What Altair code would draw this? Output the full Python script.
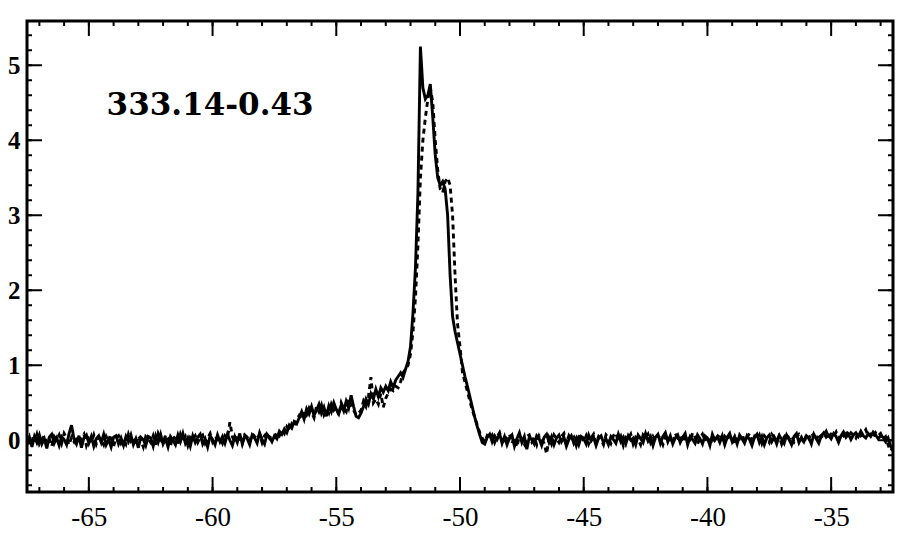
import altair as alt
import pandas as pd

# Channel velocities (km/s): -67.5 .. -32.5 in 0.1 steps
v_start, v_step, n_chan = -67.5, 0.1, 351
velocity = [round(v_start + v_step * i, 2) for i in range(n_chan)]

# ---- solid spectrum ----
solid_base_left = [
    -0.06, 0.04, -0.09, 0.05, -0.03, 0.07, -0.05, 0.02, -0.11, 0.04,
    0.08, -0.04, 0.03, -0.07, 0.05, 0.01, -0.06, 0.09, 0.20, 0.02,
    -0.05, 0.06, -0.10, 0.03, 0.07, -0.04, 0.05, -0.08, 0.02, 0.06,
    -0.03, 0.08, -0.06, 0.01, -0.09, 0.04, 0.06, -0.05, 0.03, -0.07,
    0.05, -0.02, 0.07, -0.06, 0.02, -0.10, 0.04, 0.01, -0.07, 0.05,
    0.03, -0.08, 0.06, -0.03, 0.08, -0.05, 0.02, -0.09, 0.05, 0.00,
    -0.06, 0.07, -0.02, 0.09, -0.04, 0.03, -0.08, 0.06, -0.03, 0.04,
    0.08, -0.05, 0.02, -0.09, 0.06, 0.01, -0.06, 0.07, -0.02, 0.05,
    -0.04, 0.08, 0.00, -0.07, 0.05, -0.03, 0.09, -0.05, 0.06, 0.02,
    -0.06, 0.07, 0.03, -0.04, 0.10, 0.01, -0.05, 0.08, 0.04, -0.02,
]
solid_wing = [
    0.06, 0.02, 0.12, 0.08, 0.15, 0.10, 0.20, 0.16, 0.25, 0.22,
    0.30, 0.38, 0.28, 0.42, 0.35, 0.45, 0.33, 0.40, 0.48, 0.36,
    0.44, 0.32, 0.46, 0.38, 0.50, 0.41, 0.35, 0.47, 0.39, 0.52,
    0.43, 0.60, 0.45, 0.32, 0.30,
    0.36, 0.45, 0.55, 0.48, 0.62, 0.55, 0.68, 0.58, 0.70, 0.64,
    0.72, 0.66, 0.78, 0.70, 0.80,
]
solid_peak = [
    0.85, 0.90, 0.84, 0.95, 1.05, 1.25, 1.70, 2.30, 3.30, 5.25,
    4.70, 4.55, 4.60, 4.75, 4.30,
    3.80, 3.50, 3.40, 3.45, 3.35, 3.00, 2.20, 1.65, 1.45, 1.30,
    1.15, 1.00, 0.85, 0.72, 0.58, 0.44, 0.30, 0.18, 0.07, -0.03,
]
solid_base_right = [
    -0.05, 0.04, 0.08, -0.02, 0.06, 0.01, 0.09, -0.04, 0.05, -0.06,
    0.03, 0.07, -0.08, 0.02, 0.10, -0.03, 0.05, -0.12, 0.04, 0.01,
    -0.05, 0.06, 0.02, -0.07, 0.04, 0.08, -0.03, 0.05, -0.06, 0.03,
    0.07, -0.02, 0.04, -0.08, 0.01, 0.06, -0.04, 0.03, -0.06, 0.05,
    0.02, -0.05, 0.07, -0.01, 0.04, -0.07, 0.03, 0.06, -0.03, 0.02,
    -0.06, 0.05, 0.01, -0.04, 0.08, -0.02, 0.04, -0.05, 0.06, 0.00,
    0.03, -0.06, 0.07, 0.02, -0.03, 0.09, -0.01, 0.05, -0.07, 0.04,
    0.08, -0.04, 0.05, 0.10, -0.02, 0.06, -0.05, 0.03, 0.07, -0.03,
    0.04, 0.09, -0.06, 0.05, 0.01, -0.04, 0.07, 0.02, -0.05, 0.06,
    0.03, -0.07, 0.08, 0.00, 0.05, -0.03, 0.06, -0.06, 0.04, 0.09,
    -0.02, 0.05, -0.05, 0.07, 0.02, -0.04, 0.06, 0.01, -0.07, 0.04,
    0.08, -0.03, 0.05, -0.06, 0.03, 0.07, -0.02, 0.04, -0.05, 0.06,
    0.02, -0.04, 0.07, 0.01, -0.06, 0.05, 0.09, -0.03, 0.04, -0.02,
    0.06, 0.03, -0.05, 0.08, 0.02, -0.04, 0.06, 0.10, 0.04, 0.07,
    0.02, 0.09, 0.05, -0.03, 0.06, 0.11, 0.04, 0.08, 0.01, 0.07,
    0.10, 0.05, 0.12, 0.06, 0.03, 0.09, 0.05, 0.11, 0.07, 0.02,
    0.06, 0.04, -0.02, 0.03, -0.08, -0.12,
]

# ---- dashed spectrum ----
dashed_base_left = [
    0.03, -0.07, 0.05, -0.02, 0.08, -0.05, 0.01, 0.06, -0.04, 0.02,
    -0.08, 0.05, 0.00, 0.07, -0.04, 0.09, 0.03, -0.06, 0.04, -0.02,
    0.06, -0.05, 0.03, 0.08, -0.07, 0.02, -0.03, 0.07, -0.05, 0.04,
    0.01, -0.06, 0.05, -0.02, 0.07, -0.08, 0.03, 0.06, -0.04, 0.02,
    -0.05, 0.08, -0.01, 0.04, -0.07, 0.06, 0.00, -0.09, 0.05, 0.02,
    -0.03, 0.06, -0.06, 0.09, 0.01, -0.04, 0.07, 0.03, -0.07, 0.05,
    0.02, -0.05, 0.08, -0.01, 0.05, -0.07, 0.04, 0.01, 0.06, -0.03,
    0.04, 0.07, -0.04, 0.03, 0.09, -0.02, 0.05, 0.01, 0.03, -0.04,
    0.06, 0.02, 0.24, 0.05, -0.03, 0.08, 0.02, -0.05, 0.07, 0.04,
    -0.02, 0.09, 0.05, 0.01, 0.08, -0.03, 0.06, 0.10, 0.03, 0.07,
]
dashed_wing = [
    0.04, 0.10, 0.06, 0.14, 0.09, 0.18, 0.13, 0.22, 0.18, 0.27,
    0.33, 0.28, 0.40, 0.34, 0.43, 0.37, 0.30, 0.45, 0.38, 0.47,
    0.34, 0.42, 0.36, 0.48, 0.40, 0.44, 0.33, 0.50, 0.42, 0.38,
    0.55, 0.46, 0.40, 0.34, 0.36,
    0.40, 0.52, 0.45, 0.58, 0.84, 0.50, 0.55, 0.48, 0.62, 0.44,
    0.56, 0.63, 0.68, 0.66, 0.72,
]
dashed_peak = [
    0.70, 0.78, 0.90, 0.95, 1.00, 1.15, 1.45, 1.90, 2.60, 3.50,
    4.00, 4.30, 4.55, 4.70, 4.50,
    4.00, 3.60, 3.35, 3.30, 3.45, 3.50, 3.40, 3.00, 2.20, 1.55,
    1.25, 0.90, 0.78, 0.65, 0.52, 0.40, 0.30, 0.20, 0.10, 0.03,
]
dashed_base_right = [
    -0.02, 0.06, 0.02, 0.07, -0.03, 0.05, 0.10, 0.00, -0.05, 0.04,
    0.08, -0.04, 0.03, -0.09, 0.06, 0.02, -0.05, 0.05, 0.07, -0.02,
    0.04, -0.06, 0.06, 0.01, -0.04, -0.18, 0.03, -0.05, 0.07, 0.02,
    -0.03, 0.05, 0.09, -0.04, 0.06, 0.00, 0.04, -0.07, 0.05, 0.08,
    -0.02, 0.06, -0.05, 0.03, 0.08, -0.03, 0.05, 0.01, -0.06, 0.07,
    0.03, -0.04, 0.06, 0.10, -0.02, 0.05, -0.07, 0.04, 0.02, 0.08,
    -0.05, 0.04, 0.01, -0.06, 0.07, 0.03, 0.08, -0.03, 0.05, -0.01,
    0.06, 0.02, -0.06, 0.05, 0.08, 0.01, -0.04, 0.09, 0.03, 0.06,
    -0.03, 0.05, 0.07, -0.02, 0.10, 0.04, -0.05, 0.03, 0.08, -0.01,
    0.06, 0.01, -0.05, 0.07, 0.03, 0.09, -0.02, 0.05, 0.00, 0.07,
    0.03, -0.06, 0.06, 0.02, 0.08, -0.01, 0.04, 0.09, -0.03, 0.05,
    0.01, 0.07, -0.04, 0.06, 0.02, -0.03, 0.08, 0.04, 0.00, 0.06,
    -0.05, 0.04, 0.09, 0.02, 0.06, -0.02, 0.05, 0.08, 0.03, -0.04,
    0.07, 0.02, 0.10, 0.05, -0.01, 0.09, 0.04, 0.07, 0.12, 0.03,
    0.08, 0.05, 0.11, 0.02, 0.09, 0.06, 0.13, 0.04, 0.10, 0.07,
    0.03, 0.11, 0.06, 0.09, 0.14, 0.05, 0.08, 0.03, 0.10, 0.06,
    0.09, 0.02, 0.05, -0.06, -0.14, -0.10,
]

solid_vals = solid_base_left + solid_wing + solid_peak + solid_base_right
dashed_vals = dashed_base_left + dashed_wing + dashed_peak + dashed_base_right

# tick values / labels
x_major = [-65, -60, -55, -50, -45, -40, -35]
x_minor = list(range(-67, -32))
y_major = [0, 1, 2, 3, 4, 5]
y_minor = [round(-0.6 + 0.2 * k, 1) for k in range(31)]

label_text = ["333.14-0.43"]
label_x = [-60.1]
label_y = [4.46]

W, H = 866, 471
MAJ, MIN = 15, 5

df_solid = pd.DataFrame({"v": velocity[:len(solid_vals)], "t": solid_vals})
df_dashed = pd.DataFrame({"v": velocity[:len(dashed_vals)], "t": dashed_vals})
df_label = pd.DataFrame({"v": label_x, "t": label_y, "txt": label_text})

xs = alt.Scale(domain=[-67.5, -32.5], nice=False, zero=False)
ys = alt.Scale(domain=[-0.69, 5.59], nice=False, zero=False)

x_axis = alt.Axis(values=x_major, ticks=False, domain=False, grid=False, title=None,
                  labelFont="Liberation Serif", labelFontSize=27, labelColor="black",
                  labelPadding=12, labelFlush=False,
                  labelExpr="toString(datum.value)")
y_axis = alt.Axis(values=y_major, ticks=False, domain=False, grid=False, title=None,
                  labelFont="Liberation Serif", labelFontSize=25, labelFontWeight="bold",
                  labelColor="black", labelPadding=7, labelFlush=False,
                  labelExpr="toString(datum.value)")

X = alt.X("v:Q", scale=xs, axis=x_axis)
Y = alt.Y("t:Q", scale=ys, axis=y_axis)

solid = alt.Chart(df_solid).mark_line(color="black", strokeWidth=2.9, clip=True).encode(x=X, y=Y)
dashed = alt.Chart(df_dashed).mark_line(
    color="black", strokeWidth=2.9, strokeDash=[5, 4], clip=True).encode(x=X, y=Y)

def xticks(vals, length):
    d = pd.DataFrame({"v": vals})
    bottom = alt.Chart(d).mark_rule(color="black", strokeWidth=2).encode(
        x=X, y=alt.value(H), y2=alt.value(H - length))
    top = alt.Chart(d).mark_rule(color="black", strokeWidth=2).encode(
        x=X, y=alt.value(0), y2=alt.value(length))
    return [bottom, top]

def yticks(vals, length):
    d = pd.DataFrame({"t": vals})
    left = alt.Chart(d).mark_rule(color="black", strokeWidth=2).encode(
        y=Y, x=alt.value(0), x2=alt.value(length))
    right = alt.Chart(d).mark_rule(color="black", strokeWidth=2).encode(
        y=Y, x=alt.value(W), x2=alt.value(W - length))
    return [left, right]

label = alt.Chart(df_label).mark_text(
    font="DejaVu Serif", fontWeight="bold", fontSize=31, color="black",
    align="center", baseline="middle"
).encode(x=X, y=Y, text="txt:N")

layers = [solid, dashed] + xticks(x_major, MAJ) + xticks(x_minor, MIN) + \
    yticks(y_major, MAJ) + yticks(y_minor, MIN) + [label]

chart = alt.layer(*layers).properties(
    width=W, height=H,
    autosize=alt.AutoSizeParams(type="none"),
    padding={"left": 19, "top": 13, "right": 12, "bottom": 40},
    background="white",
).configure_view(stroke="black", strokeWidth=3)

chart.save("out.html", embed_options={"renderer": "svg", "actions": False})
